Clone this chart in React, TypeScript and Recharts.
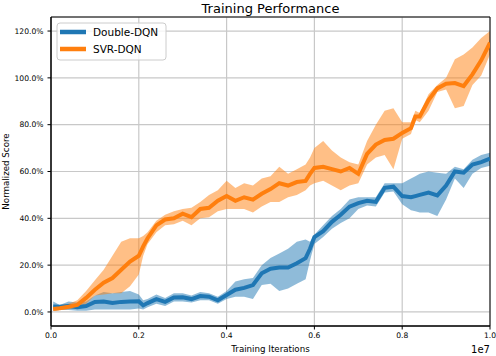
import React from 'react';
import { ComposedChart, Line, Area, XAxis, YAxis, CartesianGrid, ReferenceArea, Customized } from 'recharts';

const iterations = [0.005, 0.02, 0.04, 0.06, 0.08, 0.10, 0.12, 0.14, 0.16, 0.18, 0.20, 0.21, 0.22, 0.24, 0.26, 0.28, 0.30, 0.32, 0.34, 0.36, 0.38, 0.40, 0.42, 0.44, 0.46, 0.48, 0.50, 0.52, 0.54, 0.56, 0.58, 0.59, 0.60, 0.62, 0.64, 0.66, 0.68, 0.70, 0.72, 0.74, 0.76, 0.78, 0.80, 0.82, 0.83, 0.84, 0.86, 0.88, 0.90, 0.92, 0.94, 0.96, 0.98, 1.00];

const svrMean = [1.3, 1.6, 2.2, 3, 6, 9.5, 12.5, 14.5, 18, 21.5, 24, 28, 31.5, 37, 39.5, 40, 42, 40.5, 44, 44.5, 47.5, 49.5, 47.5, 49, 48, 50.5, 52.5, 55, 54, 55.5, 56, 59, 61.5, 62, 61, 60, 61.5, 59, 67.5, 71.5, 73.5, 74, 76.5, 78.5, 83.5, 83.5, 90.5, 95.5, 97.5, 97.8, 96.5, 101.5, 107.5, 115];
const svrLow = [0.5, 0.8, 1.2, 1.8, 3.5, 7, 7.5, 8, 8, 11, 16, 24, 29, 34, 37, 37.5, 39, 37, 40, 40.5, 43, 44, 44, 44, 42.5, 45, 47, 47, 49, 50, 52, 54, 55, 56, 54, 52, 54, 55, 63, 66, 67, 61, 74, 76, 82, 81, 86, 94, 95, 87, 88, 97, 101, 110];
const svrHigh = [2.5, 2.8, 3.5, 5, 9, 13.5, 18, 24, 30, 31.5, 31.5, 32.5, 34, 39, 41.5, 43, 44, 44.5, 47, 50, 52, 56, 53, 55, 54, 57, 58, 62, 59, 61, 63, 66, 70, 73, 69, 66, 64, 63, 73, 80, 86, 87, 81, 81, 86, 85, 93, 97, 100, 108, 110, 113, 117, 120];

const ddqnMean = [2.3, 2.2, 2.5, 2, 2.5, 4.3, 4.5, 3.8, 4.3, 4.5, 4.6, 2.8, 3.8, 5.5, 4.3, 6.2, 6.3, 5.5, 6.8, 6.5, 5, 7.2, 9.5, 10.3, 11.5, 16.5, 18.5, 19, 19, 20.8, 23, 27, 32, 34.5, 38.5, 41.5, 45, 46.5, 47.5, 47, 53, 53.5, 49.5, 49, 49.5, 50, 51, 49.8, 54, 60, 59.5, 63, 64, 65.5];
const ddqnLow = [0.5, 0.8, 0.8, 0.5, 0.5, 1, 1, 1, 1, 1, 1.5, 1, 2, 3.5, 2.5, 4.5, 4.5, 4, 5, 5, 3.5, 5.5, 6.5, 6.5, 5.5, 11.5, 12, 9, 10, 12, 14, 22, 29, 32, 35.5, 38, 40, 44, 45.5, 45, 51, 51.5, 46, 43.5, 43, 42.5, 42.5, 41, 48, 57, 53, 59, 61.5, 62.5];
const ddqnHigh = [4.5, 3, 4.5, 4, 4.5, 7, 8.5, 8, 8.5, 9, 7.5, 5, 5.5, 7.5, 6, 8, 8, 7, 8.5, 8, 6.5, 9, 13, 14, 14.5, 20, 23, 25, 27, 30, 31, 30, 33, 37, 41, 44, 48, 49, 49, 49, 55, 55, 55, 57, 58, 59, 60, 59.5, 59, 62, 61, 65, 67, 68];

const xTicks = [0, 0.2, 0.4, 0.6, 0.8, 1.0];
const yTicks = [0, 20, 40, 60, 80, 100, 120];
const seriesNames = ['Double-DQN', 'SVR-DQN'];

const BLUE = '#1f77b4';
const ORANGE = '#ff7f0e';
const FONT = '"DejaVu Sans", sans-serif';

const data = iterations.map((x, i) => ({
  x,
  svr: svrMean[i],
  svrBand: [svrLow[i], svrHigh[i]],
  dd: ddqnMean[i],
  ddBand: [ddqnLow[i], ddqnHigh[i]],
}));

const Texts = () => (
  <g fontFamily={FONT}>
    <text x={270.5} y={13} textAnchor="middle" fontSize={13} fill="#000">Training Performance</text>
    <text x={270.5} y={352} textAnchor="middle" fontSize={8.7} fill="#000">Training Iterations</text>
    <text x={490} y={353} textAnchor="end" fontSize={10} fill="#000">1e7</text>
    <text x={9} y={171.5} textAnchor="middle" fontSize={8.7} fill="#000" transform="rotate(-90 9 171.5)">Normalized Score</text>
    <rect x={57} y={23} width={109} height={37} rx={3} fill="#fff" fillOpacity={0.8} stroke="#cccccc" strokeWidth={1} />
    <line x1={60} x2={86} y1={32} y2={32} stroke={BLUE} strokeWidth={4.5} />
    <line x1={60} x2={86} y1={49} y2={49} stroke={ORANGE} strokeWidth={4.5} />
    <text x={93} y={35.8} fontSize={10.5} fill="#000">{seriesNames[0]}</text>
    <text x={93} y={52.8} fontSize={10.5} fill="#000">{seriesNames[1]}</text>
  </g>
);

export default function App() {
  return (
    <div style={{ position: 'absolute', left: 0, top: 0, background: '#fff' }}>
      <ComposedChart width={496} height={356} data={data} margin={{ top: 17, right: 6, bottom: 0, left: 0 }}>
        <CartesianGrid stroke="#c8c8c8" strokeWidth={1.2} horizontal vertical />
        <XAxis
          type="number"
          dataKey="x"
          domain={[0, 1]}
          ticks={xTicks}
          tickFormatter={(v: number) => v.toFixed(1)}
          height={30}
          tickSize={3.5}
          tickMargin={3.5}
          axisLine={{ stroke: '#000' }}
          tickLine={{ stroke: '#000' }}
          tick={{ fontSize: 7.6, fill: '#000', fontFamily: FONT }}
          allowDataOverflow
        />
        <YAxis
          type="number"
          domain={[-6, 126]}
          ticks={yTicks}
          tickFormatter={(v: number) => `${v.toFixed(1)}%`}
          width={51}
          tickSize={3.5}
          tickMargin={4}
          axisLine={{ stroke: '#000' }}
          tickLine={{ stroke: '#000' }}
          tick={{ fontSize: 7.6, fill: '#000', fontFamily: FONT }}
          allowDataOverflow
        />
        <Area type="linear" dataKey="ddBand" stroke="none" fill={BLUE} fillOpacity={0.5} isAnimationActive={false} />
        <Area type="linear" dataKey="svrBand" stroke="none" fill={ORANGE} fillOpacity={0.5} isAnimationActive={false} />
        <Line type="linear" dataKey="dd" stroke={BLUE} strokeWidth={4} dot={false} isAnimationActive={false} />
        <Line type="linear" dataKey="svr" stroke={ORANGE} strokeWidth={4} dot={false} isAnimationActive={false} />
        <ReferenceArea x1={0} x2={1} y1={-6} y2={126} fill="none" stroke="#000" strokeWidth={1} ifOverflow="visible" />
        <Customized component={Texts} />
      </ComposedChart>
    </div>
  );
}
